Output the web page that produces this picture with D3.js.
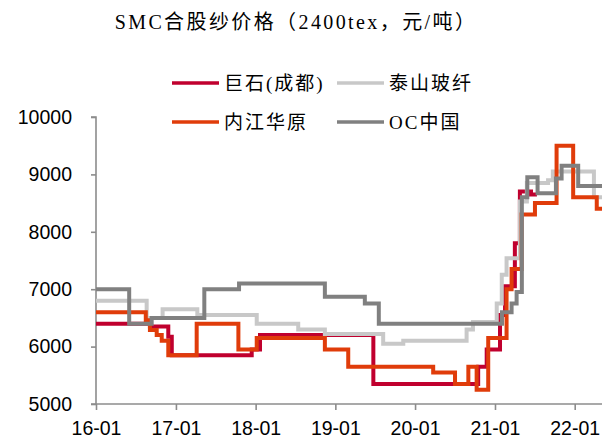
<!DOCTYPE html>
<html>
<head>
<meta charset="utf-8">
<script src="https://cdn.jsdelivr.net/npm/d3@7"></script>
<style>
  html, body { margin: 0; padding: 0; background: #fff; }
  svg { display: block; }
</style>
</head>
<body>
<div id="chart"></div>
<script>
// ---- data ----
const titleText = "SMC合股纱价格（2400tex，元/吨）";
const seriesNames = ["巨石(成都)", "泰山玻纤", "内江华原", "OC中国"];
const yTicks = [5000, 6000, 7000, 8000, 9000, 10000];
const xTickLabels = ["16-01", "17-01", "18-01", "19-01", "20-01", "21-01", "22-01"];

const jushiDates = ["2016-01-01","2016-09-04","2016-11-27","2016-12-13","2017-12-14","2018-01-21","2019-06-24","2020-10-16","2020-11-24","2021-01-24","2021-02-16","2021-04-02","2021-04-25","2021-06-15","2021-07-12"];
const jushiValues = [6400,6350,6170,5850,5950,6200,5350,5650,5950,6550,7050,7800,8700,8650,8650];

const taishanDates = ["2016-01-01","2016-08-20","2016-11-01","2017-04-09","2018-01-06","2018-07-15","2018-11-14","2019-08-08","2019-11-08","2020-08-24","2020-09-22","2021-01-09","2021-02-01","2021-02-23","2021-04-25","2021-05-27","2021-09-01","2021-09-23","2022-03-30","2022-05-06"];
const taishanValues = [6800,6500,6650,6550,6400,6300,6220,6050,6100,6300,6430,6750,7250,7540,8530,8850,8900,9050,8600,8600];

const neijiangDates = ["2016-01-01","2016-08-16","2016-09-04","2016-10-05","2016-10-28","2016-11-27","2017-04-06","2017-10-14","2018-01-06","2018-11-14","2019-03-01","2020-03-24","2020-07-02","2020-09-01","2020-10-09","2020-12-01","2021-02-23","2021-03-18","2021-05-03","2021-07-03","2021-10-10","2021-12-25","2022-04-12","2022-05-06"];
const neijiangValues = [6600,6460,6290,6200,6100,5850,6400,5950,6150,5950,5650,5550,5350,5650,5250,6150,7000,7350,8300,8500,9500,8600,8400,8400];

const ocDates = ["2016-01-01","2016-06-01","2016-09-12","2017-05-11","2017-10-17","2018-11-14","2019-05-16","2019-07-19","2021-02-02","2021-03-18","2021-04-10","2021-05-04","2021-05-29","2021-07-15","2021-10-07","2021-11-02","2022-01-17","2022-05-06"];
const ocValues = [7000,6400,6500,7000,7100,6870,6750,6400,6600,6750,6950,8600,8950,8670,8930,9150,8800,8800];

const colors = ["#C0002E", "#C8C8C8", "#E03C0A", "#808080"];

// ---- build ----
const W = 602, H = 439;
const parse = d3.timeParse("%Y-%m-%d");
const series = [
  {name: seriesNames[0], dates: jushiDates, values: jushiValues, color: colors[0]},
  {name: seriesNames[1], dates: taishanDates, values: taishanValues, color: colors[1]},
  {name: seriesNames[2], dates: neijiangDates, values: neijiangValues, color: colors[2]},
  {name: seriesNames[3], dates: ocDates, values: ocValues, color: colors[3]}
].map(s => ({...s, points: s.dates.map((d, i) => ({date: parse(d), value: s.values[i]}))}));

const svg = d3.select("#chart").append("svg").attr("width", W).attr("height", H);

const x = d3.scaleTime()
  .domain([parse("2016-01-01"), parse("2022-05-06")])
  .range([96, 602]);
const y = d3.scaleLinear().domain([5000, 10000]).range([404, 117]);

// title
svg.append("text")
  .attr("x", 296).attr("y", 29)
  .attr("text-anchor", "middle")
  .attr("font-family", "'Liberation Serif', 'Noto Sans CJK SC', serif")
  .attr("font-size", 20)
  .attr("letter-spacing", "2.4px")
  .attr("fill", "#000")
  .text(titleText);

// axes
const axisColor = "#8c8c8c";
const yAxis = svg.append("g").attr("transform", "translate(96,0)")
  .call(d3.axisLeft(y).tickValues(yTicks).tickSize(5).tickPadding(19).tickFormat(d3.format("d")));
const xTickDates = xTickLabels.map(l => parse("20" + l.slice(0, 2) + "-01-01"));
const xAxis = svg.append("g").attr("transform", "translate(0,404)")
  .call(d3.axisBottom(x).tickValues(xTickDates).tickSize(6).tickPadding(6)
    .tickFormat((d, i) => xTickLabels[i]));

[yAxis, xAxis].forEach(g => {
  g.select(".domain").attr("stroke", axisColor).attr("stroke-width", 1.6);
  g.selectAll(".tick line").attr("stroke", axisColor).attr("stroke-width", 1.6);
  g.selectAll("text").attr("font-family", "'Liberation Sans', Arial, sans-serif")
    .attr("font-size", 19.5).attr("fill", "#000");
});
yAxis.select(".domain").attr("d", "M-5,404H0V117H-5");
xAxis.select(".domain").attr("d", "M96,0H602");
xAxis.selectAll("text").attr("dy", "0.95em");

// lines
const line = d3.line()
  .x(d => x(d.date)).y(d => y(d.value))
  .curve(d3.curveStepAfter);

svg.append("g").selectAll("path").data(series).join("path")
  .attr("d", d => line(d.points))
  .attr("fill", "none")
  .attr("stroke", d => d.color)
  .attr("stroke-width", 4)
  .attr("stroke-linejoin", "miter");

// legend
const legendPos = [
  {lx: 172, ly: 83}, {lx: 337, ly: 83},
  {lx: 172, ly: 122}, {lx: 337, ly: 122}
];
const legend = svg.append("g").selectAll("g").data(series).join("g")
  .attr("transform", (d, i) => `translate(${legendPos[i].lx},${legendPos[i].ly})`);
legend.append("line")
  .attr("x1", 0).attr("x2", 47).attr("y1", 0).attr("y2", 0)
  .attr("stroke", d => d.color).attr("stroke-width", 3.5);
legend.append("text")
  .attr("x", (d, i) => i === 3 ? 52 : 52).attr("y", 0).attr("dy", "0.36em")
  .attr("font-family", "'Liberation Serif', 'Noto Sans CJK SC', serif")
  .attr("font-size", 19)
  .attr("letter-spacing", "2px")
  .attr("fill", "#000")
  .text(d => d.name);
</script>
</body>
</html>
